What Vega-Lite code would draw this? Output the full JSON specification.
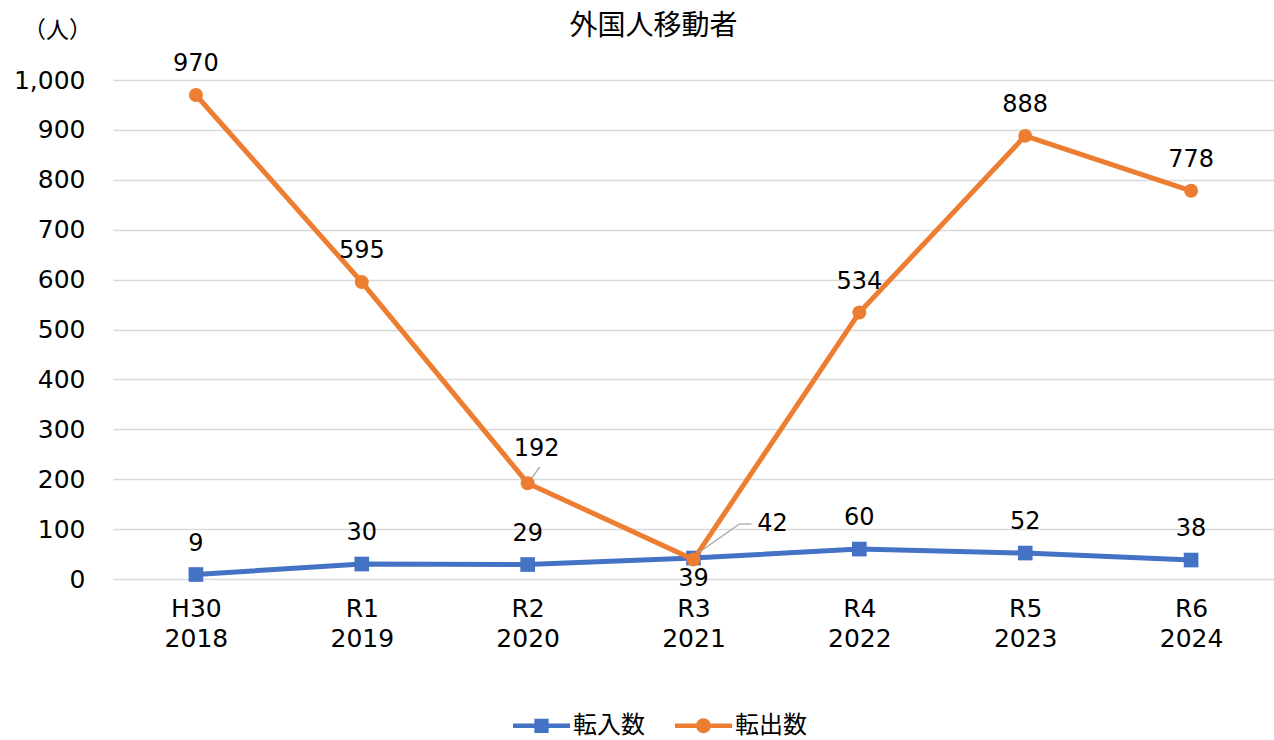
{
  "$schema": "https://vega.github.io/schema/vega-lite/v6.json",
  "width": 1161,
  "height": 499,
  "autosize": {"type": "none"},
  "padding": {"left": 113, "top": 80, "right": 0, "bottom": 161},
  "background": "white",
  "title": {
    "text": "外国人移動者",
    "font": "Noto Sans CJK JP",
    "fontSize": 28,
    "fontWeight": "normal",
    "color": "#000000",
    "anchor": "middle",
    "offset": 30,
    "dx": -40,
    "dy": 52
  },
  "config": {
    "view": {"stroke": null},
    "font": "DejaVu Sans"
  },
  "data": {
    "values": [
      {"年度": "H30|2018", "系列": "転入数", "人数": 9},
      {"年度": "R1|2019", "系列": "転入数", "人数": 30},
      {"年度": "R2|2020", "系列": "転入数", "人数": 29},
      {"年度": "R3|2021", "系列": "転入数", "人数": 42},
      {"年度": "R4|2022", "系列": "転入数", "人数": 60},
      {"年度": "R5|2023", "系列": "転入数", "人数": 52},
      {"年度": "R6|2024", "系列": "転入数", "人数": 38},
      {"年度": "H30|2018", "系列": "転出数", "人数": 970},
      {"年度": "R1|2019", "系列": "転出数", "人数": 595},
      {"年度": "R2|2020", "系列": "転出数", "人数": 192},
      {"年度": "R3|2021", "系列": "転出数", "人数": 39},
      {"年度": "R4|2022", "系列": "転出数", "人数": 534},
      {"年度": "R5|2023", "系列": "転出数", "人数": 888},
      {"年度": "R6|2024", "系列": "転出数", "人数": 778}
    ]
  },
  "encoding": {
    "x": {
      "field": "年度",
      "type": "nominal",
      "sort": null,
      "scale": {"type": "point", "padding": 0.5},
      "axis": {
        "title": null,
        "labelAngle": 0,
        "labelExpr": "split(datum.label, '|')",
        "labelFont": "DejaVu Sans",
        "labelFontSize": 25,
        "labelColor": "#000000",
        "labelLineHeight": 30,
        "labelPadding": 17,
        "labelBaseline": "top",
        "domain": false,
        "ticks": false,
        "grid": false
      }
    },
    "y": {
      "field": "人数",
      "type": "quantitative",
      "scale": {"domain": [0, 1000], "nice": false},
      "axis": {
        "title": "（人）",
        "titleAngle": 0,
        "titleX": -56,
        "titleY": -50,
        "titleAlign": "center",
        "titleBaseline": "middle",
        "titleFont": "Noto Sans CJK JP",
        "titleFontSize": 23,
        "titleFontWeight": "normal",
        "titleColor": "#000000",
        "values": [0, 100, 200, 300, 400, 500, 600, 700, 800, 900, 1000],
        "format": ",d",
        "labelFont": "DejaVu Sans",
        "labelFontSize": 25,
        "labelColor": "#000000",
        "labelPadding": 28,
        "domain": false,
        "ticks": false,
        "grid": true,
        "gridColor": "#d9d9d9",
        "gridWidth": 1.5
      }
    },
    "color": {
      "field": "系列",
      "type": "nominal",
      "scale": {"domain": ["転入数", "転出数"], "range": ["#4472C4", "#ED7D31"]},
      "legend": {
        "title": null,
        "orient": "none",
        "legendX": 400,
        "legendY": 617,
        "direction": "horizontal",
        "labelFont": "Noto Sans CJK JP",
        "labelFontSize": 24,
        "labelColor": "#000000",
        "labelOffset": 3,
        "symbolSize": 3249,
        "columnPadding": 30,
        "encode": {
          "symbols": {
            "update": {
              "shape": {"signal": "datum.value === '転入数' ? 'M-1,-0.08H1V0.08H-1Z M-0.25,-0.25H0.25V0.25H-0.25Z' : 'M-1,-0.08H1V0.08H-1Z M-0.26,0 A0.26,0.26 0 1,1 0.26,0 A0.26,0.26 0 1,1 -0.26,0 Z'"},
              "fill": {"scale": "color", "field": "value"},
              "stroke": {"value": "transparent"},
              "strokeWidth": {"value": 0},
              "opacity": {"value": 1}
            }
          }
        }
      }
    }
  },
  "layer": [
    {
      "transform": [{"filter": "datum['系列'] === '転入数'"}],
      "mark": {"type": "line", "strokeWidth": 5}
    },
    {
      "transform": [{"filter": "datum['系列'] === '転入数'"}],
      "mark": {"type": "point", "shape": "square", "filled": true, "size": 215, "opacity": 1}
    },
    {
      "transform": [{"filter": "datum['系列'] === '転出数'"}],
      "mark": {"type": "line", "strokeWidth": 5}
    },
    {
      "transform": [{"filter": "datum['系列'] === '転出数'"}],
      "mark": {"type": "point", "shape": "circle", "filled": true, "size": 195, "opacity": 1}
    },
    {
      "transform": [{"filter": "datum['系列'] === '転入数' && datum['年度'] === 'R3|2021'"}],
      "mark": {"type": "rule", "color": "#a6a6a6", "strokeWidth": 1.3, "xOffset": 6, "yOffset": -6, "x2Offset": 46, "y2Offset": -34},
      "encoding": {"x2": {"field": "年度"}, "y2": {"field": "人数"}, "color": {"value": "#a6a6a6"}}
    },
    {
      "transform": [{"filter": "datum['系列'] === '転入数' && datum['年度'] === 'R3|2021'"}],
      "mark": {"type": "rule", "color": "#a6a6a6", "strokeWidth": 1.3, "xOffset": 46, "yOffset": -34, "x2Offset": 58, "y2Offset": -34},
      "encoding": {"x2": {"field": "年度"}, "y2": {"field": "人数"}, "color": {"value": "#a6a6a6"}}
    },
    {
      "transform": [{"filter": "datum['系列'] === '転出数' && datum['年度'] === 'R2|2020'"}],
      "mark": {"type": "rule", "color": "#a6a6a6", "strokeWidth": 1.3, "xOffset": 4, "yOffset": -5, "x2Offset": 12, "y2Offset": -16},
      "encoding": {"x2": {"field": "年度"}, "y2": {"field": "人数"}, "color": {"value": "#a6a6a6"}}
    },
    {
      "transform": [{"filter": "datum['年度'] !== 'R3|2021' && !(datum['系列'] === '転出数' && datum['年度'] === 'R2|2020')"}],
      "mark": {"type": "text", "font": "DejaVu Sans", "fontSize": 24, "dy": -31, "baseline": "middle"},
      "encoding": {"text": {"field": "人数", "type": "quantitative"}, "color": {"value": "#000000"}}
    },
    {
      "transform": [{"filter": "datum['系列'] === '転出数' && datum['年度'] === 'R2|2020'"}],
      "mark": {"type": "text", "font": "DejaVu Sans", "fontSize": 24, "dx": 9, "dy": -34, "baseline": "middle"},
      "encoding": {"text": {"field": "人数", "type": "quantitative"}, "color": {"value": "#000000"}}
    },
    {
      "transform": [{"filter": "datum['系列'] === '転出数' && datum['年度'] === 'R3|2021'"}],
      "mark": {"type": "text", "font": "DejaVu Sans", "fontSize": 24, "dy": 19, "baseline": "middle"},
      "encoding": {"text": {"field": "人数", "type": "quantitative"}, "color": {"value": "#000000"}}
    },
    {
      "transform": [{"filter": "datum['系列'] === '転入数' && datum['年度'] === 'R3|2021'"}],
      "mark": {"type": "text", "font": "DejaVu Sans", "fontSize": 24, "dx": 79, "dy": -34, "baseline": "middle"},
      "encoding": {"text": {"field": "人数", "type": "quantitative"}, "color": {"value": "#000000"}}
    }
  ]
}
